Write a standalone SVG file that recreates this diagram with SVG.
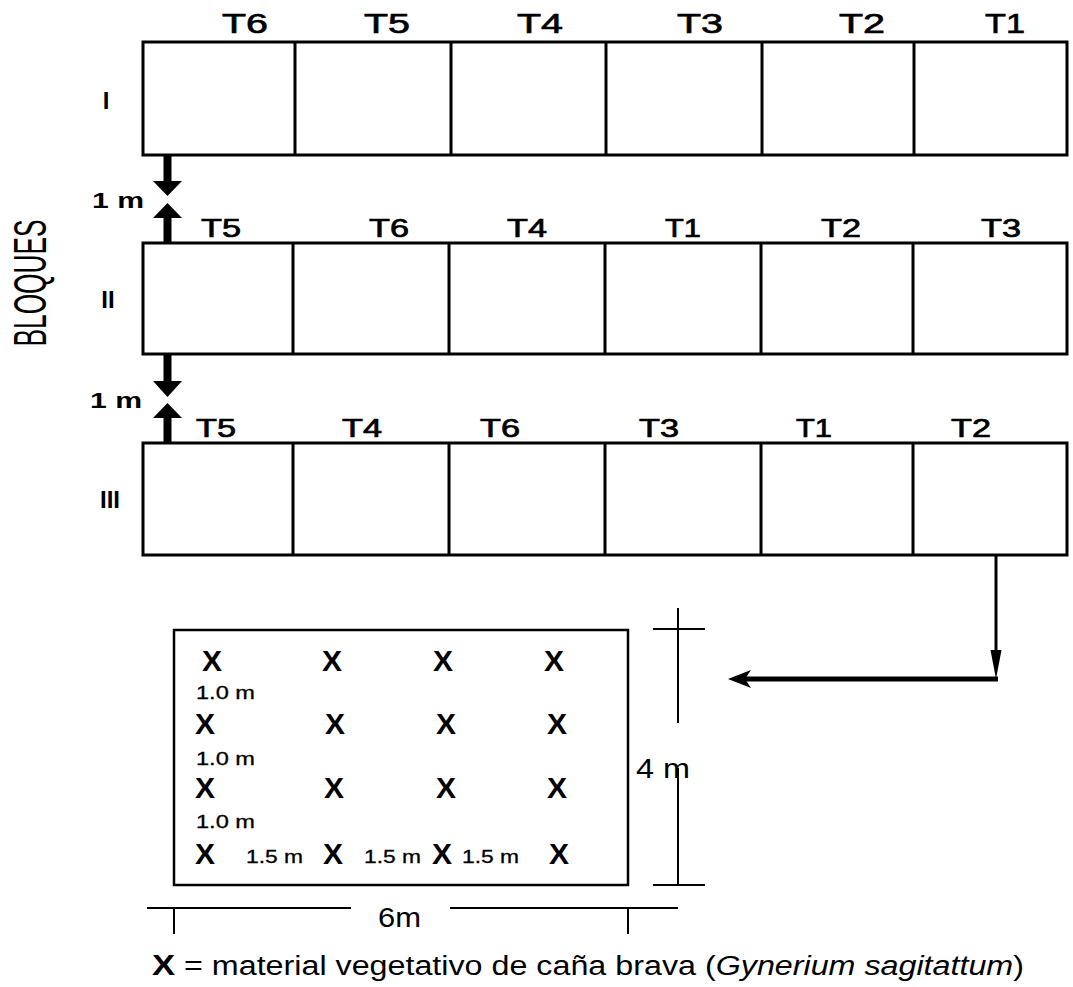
<svg xmlns="http://www.w3.org/2000/svg" width="1073" height="987" viewBox="0 0 1073 987">
  <style>
    .cell { fill: none; stroke: #000; stroke-width: 3; }
    .div { stroke: #000; stroke-width: 3; }
    .thin { stroke: #000; stroke-width: 2; fill: none; }
    .lbl1 { font-family: "Liberation Sans", Arial, sans-serif; font-size: 28px; text-anchor: middle; stroke: #000; stroke-width: 0.7; }
    .lbl2 { font-family: "Liberation Sans", Arial, sans-serif; font-size: 25px; text-anchor: middle; stroke: #000; stroke-width: 0.7; }
    .rom { font-family: "Liberation Sans", Arial, sans-serif; font-weight: bold; font-size: 24px; text-anchor: middle; }
    .sep { font-family: "Liberation Sans", Arial, sans-serif; font-weight: bold; font-size: 22px; }
    .x { font-family: "Liberation Sans", Arial, sans-serif; font-weight: bold; font-size: 30px; text-anchor: middle; }
    .dist { font-family: "Liberation Sans", Arial, sans-serif; font-size: 19px; stroke: #000; stroke-width: 0.3; }
    .dim { font-family: "Liberation Sans", Arial, sans-serif; font-size: 28px; }
    .leg { font-family: "Liberation Sans", Arial, sans-serif; font-size: 27px; }
  </style>

  <rect x="0" y="0" width="1073" height="987" fill="#fff"/>

  <!-- vertical axis title -->
  <g id="axis-bloques">
    <text x="30" y="283" font-family="'Liberation Sans', Arial, sans-serif" font-size="46" text-anchor="middle" dominant-baseline="central" textLength="127" lengthAdjust="spacingAndGlyphs" transform="rotate(-90 30 283)">BLOQUES</text>
  </g>

  <!-- block I -->
  <g id="block-I">
    <rect class="cell" x="143" y="42" width="924" height="113"/>
    <line class="div" x1="295" y1="42" x2="295" y2="155"/>
    <line class="div" x1="451" y1="42" x2="451" y2="155"/>
    <line class="div" x1="606" y1="42" x2="606" y2="155"/>
    <line class="div" x1="762" y1="42" x2="762" y2="155"/>
    <line class="div" x1="914" y1="42" x2="914" y2="155"/>
    <text class="rom" x="106" y="109">I</text>
    <text class="lbl1" x="245" y="33" textLength="46" lengthAdjust="spacingAndGlyphs">T6</text>
    <text class="lbl1" x="387" y="33" textLength="46" lengthAdjust="spacingAndGlyphs">T5</text>
    <text class="lbl1" x="540" y="33" textLength="46" lengthAdjust="spacingAndGlyphs">T4</text>
    <text class="lbl1" x="700" y="33" textLength="46" lengthAdjust="spacingAndGlyphs">T3</text>
    <text class="lbl1" x="862" y="33" textLength="46" lengthAdjust="spacingAndGlyphs">T2</text>
    <text class="lbl1" x="1005" y="33" textLength="40" lengthAdjust="spacingAndGlyphs">T1</text>
  </g>

  <!-- block II -->
  <g id="block-II">
    <rect class="cell" x="143" y="243" width="924" height="111"/>
    <line class="div" x1="293" y1="243" x2="293" y2="354"/>
    <line class="div" x1="449" y1="243" x2="449" y2="354"/>
    <line class="div" x1="605" y1="243" x2="605" y2="354"/>
    <line class="div" x1="761" y1="243" x2="761" y2="354"/>
    <line class="div" x1="913" y1="243" x2="913" y2="354"/>
    <text class="rom" x="108" y="308">II</text>
    <text class="lbl2" x="221" y="237" textLength="40" lengthAdjust="spacingAndGlyphs">T5</text>
    <text class="lbl2" x="389" y="237" textLength="40" lengthAdjust="spacingAndGlyphs">T6</text>
    <text class="lbl2" x="527" y="237" textLength="40" lengthAdjust="spacingAndGlyphs">T4</text>
    <text class="lbl2" x="683" y="237" textLength="36" lengthAdjust="spacingAndGlyphs">T1</text>
    <text class="lbl2" x="841" y="237" textLength="40" lengthAdjust="spacingAndGlyphs">T2</text>
    <text class="lbl2" x="1001" y="237" textLength="40" lengthAdjust="spacingAndGlyphs">T3</text>
  </g>

  <!-- block III -->
  <g id="block-III">
    <rect class="cell" x="143" y="443" width="924" height="112"/>
    <line class="div" x1="293" y1="443" x2="293" y2="555"/>
    <line class="div" x1="449" y1="443" x2="449" y2="555"/>
    <line class="div" x1="605" y1="443" x2="605" y2="555"/>
    <line class="div" x1="761" y1="443" x2="761" y2="555"/>
    <line class="div" x1="913" y1="443" x2="913" y2="555"/>
    <text class="rom" x="110" y="508">III</text>
    <text class="lbl2" x="216" y="437" textLength="40" lengthAdjust="spacingAndGlyphs">T5</text>
    <text class="lbl2" x="362" y="437" textLength="40" lengthAdjust="spacingAndGlyphs">T4</text>
    <text class="lbl2" x="500" y="437" textLength="40" lengthAdjust="spacingAndGlyphs">T6</text>
    <text class="lbl2" x="659" y="437" textLength="40" lengthAdjust="spacingAndGlyphs">T3</text>
    <text class="lbl2" x="814" y="437" textLength="36" lengthAdjust="spacingAndGlyphs">T1</text>
    <text class="lbl2" x="971" y="437" textLength="40" lengthAdjust="spacingAndGlyphs">T2</text>
  </g>

  <!-- spacing between blocks -->
  <g id="spacing">
    <text class="sep" x="92" y="208" textLength="52" lengthAdjust="spacingAndGlyphs">1 m</text>
    <text class="sep" x="90" y="408" textLength="52" lengthAdjust="spacingAndGlyphs">1 m</text>
  </g>

  <!-- plot detail -->
  <g id="plot-detail">
    <rect x="174" y="630" width="454" height="255" fill="none" stroke="#000" stroke-width="2.5"/>
    <text class="x" x="212" y="671">X</text>
    <text class="x" x="332" y="671">X</text>
    <text class="x" x="443" y="671">X</text>
    <text class="x" x="554" y="671">X</text>
    <text class="dist" x="196" y="699" textLength="59" lengthAdjust="spacingAndGlyphs">1.0 m</text>
    <text class="x" x="205" y="734">X</text>
    <text class="x" x="335" y="734">X</text>
    <text class="x" x="446" y="734">X</text>
    <text class="x" x="557" y="734">X</text>
    <text class="dist" x="196" y="765" textLength="59" lengthAdjust="spacingAndGlyphs">1.0 m</text>
    <text class="x" x="205" y="798">X</text>
    <text class="x" x="334" y="798">X</text>
    <text class="x" x="446" y="798">X</text>
    <text class="x" x="557" y="798">X</text>
    <text class="dist" x="196" y="828" textLength="59" lengthAdjust="spacingAndGlyphs">1.0 m</text>
    <text class="x" x="205" y="864">X</text>
    <text class="dist" x="246" y="863" textLength="57" lengthAdjust="spacingAndGlyphs">1.5 m</text>
    <text class="x" x="333" y="864">X</text>
    <text class="dist" x="364" y="863" textLength="57" lengthAdjust="spacingAndGlyphs">1.5 m</text>
    <text class="x" x="442" y="864">X</text>
    <text class="dist" x="462" y="863" textLength="57" lengthAdjust="spacingAndGlyphs">1.5 m</text>
    <text class="x" x="559" y="864">X</text>
  </g>

  <!-- dimensions of the plot -->
  <g id="dimension-height">
    <line class="thin" x1="678" y1="608" x2="678" y2="723"/>
    <line class="thin" x1="678" y1="768" x2="678" y2="885"/>
    <line class="thin" x1="653" y1="629" x2="705" y2="629"/>
    <line class="thin" x1="653" y1="885" x2="705" y2="885"/>
    <text class="dim" x="636" y="778" textLength="54" lengthAdjust="spacingAndGlyphs">4 m</text>
  </g>
  <g id="dimension-width">
    <line class="thin" x1="147" y1="908" x2="351" y2="908"/>
    <line class="thin" x1="450" y1="908" x2="678" y2="908"/>
    <line class="thin" x1="174" y1="908" x2="174" y2="934"/>
    <line class="thin" x1="628" y1="908" x2="628" y2="934"/>
    <text class="dim" x="378" y="927" font-size="27" textLength="43" lengthAdjust="spacingAndGlyphs">6m</text>
  </g>

  <!-- legend -->
  <g id="legend">
    <text class="leg" x="152" y="975" textLength="872" lengthAdjust="spacingAndGlyphs"><tspan font-weight="bold" font-size="29">X</tspan> = material vegetativo de caña brava (<tspan font-style="italic">Gynerium sagitattum</tspan>)</text>
  </g>

  <!-- connectors -->
  <g id="connectors" fill="#000" stroke="none">
    <!-- 1 m gap between block I and block II -->
    <rect x="163.5" y="155" width="8" height="27"/>
    <polygon points="153,181 182,181 167.5,196"/>
    <polygon points="167.5,203 182,218 153,218"/>
    <rect x="163.5" y="217" width="8" height="26"/>
    <!-- 1 m gap between block II and block III -->
    <rect x="163.5" y="354" width="8" height="28"/>
    <polygon points="153,381 182,381 167.5,397"/>
    <polygon points="167.5,403 182,418 153,418"/>
    <rect x="163.5" y="417" width="8" height="26"/>
    <!-- pointer from block III to the plot detail -->
    <line x1="996" y1="555" x2="996" y2="660" stroke="#000" stroke-width="3"/>
    <polygon points="990.5,650 1001.5,650 996,679"/>
    <line x1="998" y1="679" x2="744" y2="679" stroke="#000" stroke-width="5"/>
    <polygon points="728,679 751,670 745,679 751,688"/>
  </g>
</svg>
